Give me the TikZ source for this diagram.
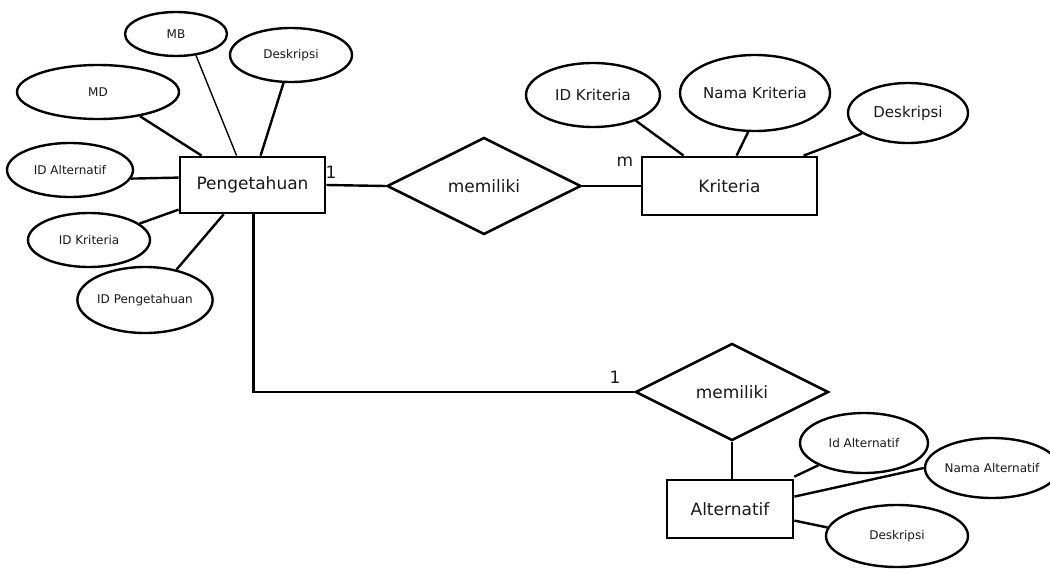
\documentclass[tikz,border=0pt]{standalone}
\usepackage{fontspec}
\setmainfont{DejaVu Sans}
\usetikzlibrary{shapes.geometric,calc}
\tikzset{
  ent/.style={draw,line width=2.8pt,rectangle,inner sep=0pt,font=\fontsize{17}{20}\selectfont},
  rel/.style={draw,line width=2.6pt,diamond,inner sep=0pt,aspect=2,font=\fontsize{17}{20}\selectfont},
  attr/.style={draw,line width=2.4pt,ellipse,inner sep=0pt},
  small/.style={font=\fontsize{12}{14}\selectfont},
  mid/.style={font=\fontsize{15}{17}\selectfont},
  link/.style={line width=2.4pt},
  thinlink/.style={line width=1.4pt},
  card/.style={inner sep=0pt,font=\fontsize{17}{20}\selectfont},
}
\begin{document}
\begin{tikzpicture}[x=1pt,y=-1pt,text=black!90]
\useasboundingbox (0,0) rectangle (1050,573);
% entities
\node[ent,minimum width=145,minimum height=56] (peng) at (252.5,185) {Pengetahuan};
\node[ent,minimum width=175,minimum height=58] (krit) at (729.5,186) {Kriteria};
\node[ent,minimum width=126,minimum height=58] (alt) at (730,509) {Alternatif};
% relationships
\node[rel,minimum width=194,minimum height=97] (d1) at (484,186) {memiliki};
\node[rel,minimum width=193,minimum height=97] (d2) at (732,392) {memiliki};
% attributes of Pengetahuan
\node[attr,small,minimum width=102,minimum height=44] (mb) at (176,34) {MB};
\node[attr,small,minimum width=122,minimum height=54] (desk1) at (291,55) {Deskripsi};
\node[attr,small,minimum width=162,minimum height=54] (md) at (98,92) {MD};
\node[attr,small,minimum width=126,minimum height=54] (idalt1) at (70,170) {ID Alternatif};
\node[attr,small,minimum width=122,minimum height=54] (idkrit1) at (89,240) {ID Kriteria};
\node[attr,small,minimum width=134,minimum height=66] (idpeng) at (145,300) {ID Pengetahuan};
% attributes of Kriteria
\node[attr,mid,minimum width=134,minimum height=64] (idkrit2) at (593,95) {ID Kriteria};
\node[attr,mid,minimum width=150,minimum height=76] (namakrit) at (755,93) {Nama Kriteria};
\node[attr,mid,minimum width=120,minimum height=60] (desk2) at (908,113) {Deskripsi};
% attributes of Alternatif
\node[attr,small,minimum width=128,minimum height=60] (idalt2) at (864,443) {Id Alternatif};
\node[attr,small,minimum width=122,minimum height=60] (namaalt) at (992,468) {Nama Alternatif};
\node[attr,small,minimum width=142,minimum height=62] (desk3) at (897,536) {Deskripsi};
% attribute links
\draw[thinlink] (mb.-47) -- ($(peng.north west)+(58,0)$);
\draw[link] (desk1.-105) -- ($(peng.north west)+(82,0)$);
\draw[link] (md.-30) -- ($(peng.north west)+(23,0)$);
\draw[link] (idalt1.-8) -- ($(peng.north west)+(0,22)$);
\draw[link] (idkrit1.18) -- ($(peng.north west)+(0,54)$);
\draw[link] (idpeng.44) -- ($(peng.south west)+(45,0)$);
\draw[link] (idkrit2.-31) -- ($(krit.north west)+(43,0)$);
\draw[link] (namakrit.-100) -- ($(krit.north west)+(96,0)$);
\draw[link] (desk2.-156) -- ($(krit.north west)+(163,0)$);
\draw[link] (idalt2.-154) -- ($(alt.north east)+(0,-2)$);
\draw[link] (namaalt.180) -- ($(alt.north east)+(0,18)$);
\draw[link] (desk3.173) -- ($(alt.north east)+(0,42)$);
% relationship links
\draw[link] (peng.east) -- (d1.west);
\draw[link] (d1.east) -- (krit.west);
\draw[link] ($(peng.south west)+(75,0)$) |- (d2.west);
\draw[link] (d2.south) -- (d2.south |- alt.north);
% cardinalities
\node[card] (c1) at (331,172) {1};
\node[card] (cm) at (625,162) {m};
\node[card] (c2) at (615,377) {1};
\end{tikzpicture}
\end{document}
